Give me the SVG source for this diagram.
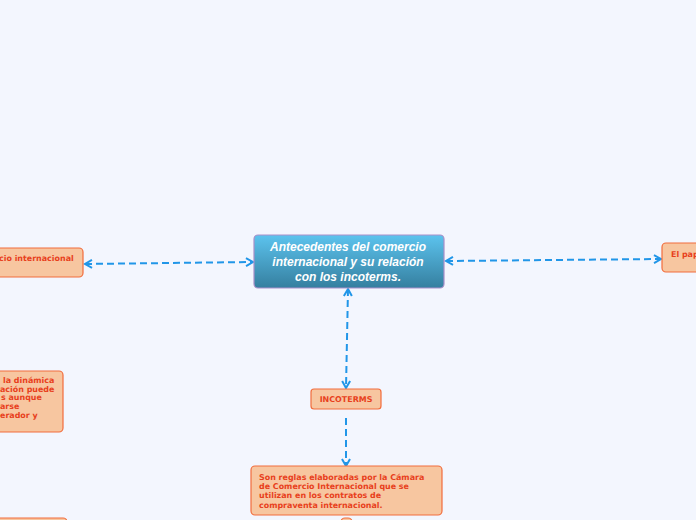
<svg xmlns="http://www.w3.org/2000/svg" width="696" height="520" viewBox="0 0 696 520">
<defs>
<linearGradient id="cg" x1="0" y1="0" x2="0" y2="1">
<stop offset="0" stop-color="#5cc3ee"/>
<stop offset="1" stop-color="#357f9f"/>
</linearGradient>
<marker id="ah" viewBox="0 0 10 10" refX="8" refY="5" markerWidth="10" markerHeight="10" markerUnits="userSpaceOnUse" orient="auto-start-reverse">
<path d="M1,1 L8,5 L1,9" fill="none" stroke="#2196e8" stroke-width="2"/>
</marker>
</defs>
<style>
.n{fill:#f7c6a0;stroke:#f26d3d;stroke-width:1.2}
.t{font-family:"DejaVu Sans",sans-serif;font-weight:bold;font-size:7.95px;fill:#e8401c}
.c{fill:none;stroke:#2196e8;stroke-width:2;stroke-dasharray:7,4}
.ct{font-family:"Liberation Sans",Arial,sans-serif;font-weight:bold;font-style:italic;font-size:12px;fill:#ffffff}
</style>
<rect width="696" height="520" fill="#f3f6fe"/>
<g id="connectors">
<path class="c" d="M85,264 L253,262" marker-start="url(#ah)" marker-end="url(#ah)"/>
<path class="c" d="M446,261 L661,259" marker-start="url(#ah)" marker-end="url(#ah)"/>
<path class="c" d="M348,289 L346,388" marker-start="url(#ah)" marker-end="url(#ah)"/>
<path class="c" d="M346,418 L346,466" marker-end="url(#ah)"/>
</g>
<g id="center">
<rect x="254" y="235" width="190" height="53" rx="4" fill="url(#cg)" stroke="#a98fc9" stroke-width="1.2"/>
<text class="ct" text-anchor="middle"><tspan x="348" y="251">Antecedentes del comercio</tspan><tspan x="348" y="266">internacional y su relación</tspan><tspan x="348" y="281">con los incoterms.</tspan></text>
</g>
<g id="left">
<rect class="n" x="-10" y="248" width="93" height="29" rx="4"/>
<text class="t" x="-1" y="261">cio internacional</text>
</g>
<g id="right">
<rect class="n" x="662" y="243" width="50" height="29" rx="4"/>
<text class="t" x="671" y="257">El pap</text>
</g>
<g id="leftmid">
<rect class="n" x="-10" y="371" width="73" height="61" rx="4"/>
<text class="t"><tspan x="3" y="383">la dinámica</tspan><tspan x="0" y="392">ación puede</tspan><tspan x="1" y="400">s aunque</tspan><tspan x="0" y="409">arse</tspan><tspan x="0" y="418">erador y</tspan></text>
</g>
<g id="bottomleft">
<rect class="n" x="-10" y="518" width="77" height="20" rx="4"/>
</g>
<g id="incoterms">
<rect class="n" x="311" y="389" width="70" height="20" rx="3"/>
<text class="t" x="346" y="402" text-anchor="middle">INCOTERMS</text>
</g>
<g id="reglas">
<rect class="n" x="251" y="466" width="191" height="49" rx="4"/>
<text class="t"><tspan x="259" y="480">Son reglas elaboradas por la Cámara</tspan><tspan x="259" y="489">de Comercio Internacional que se</tspan><tspan x="259" y="498">utilizan en los contratos de</tspan><tspan x="259" y="508">compraventa internacional.</tspan></text>
</g>
<g id="bottomsmall">
<rect class="n" x="341" y="518" width="11" height="10" rx="4"/>
</g>
</svg>
